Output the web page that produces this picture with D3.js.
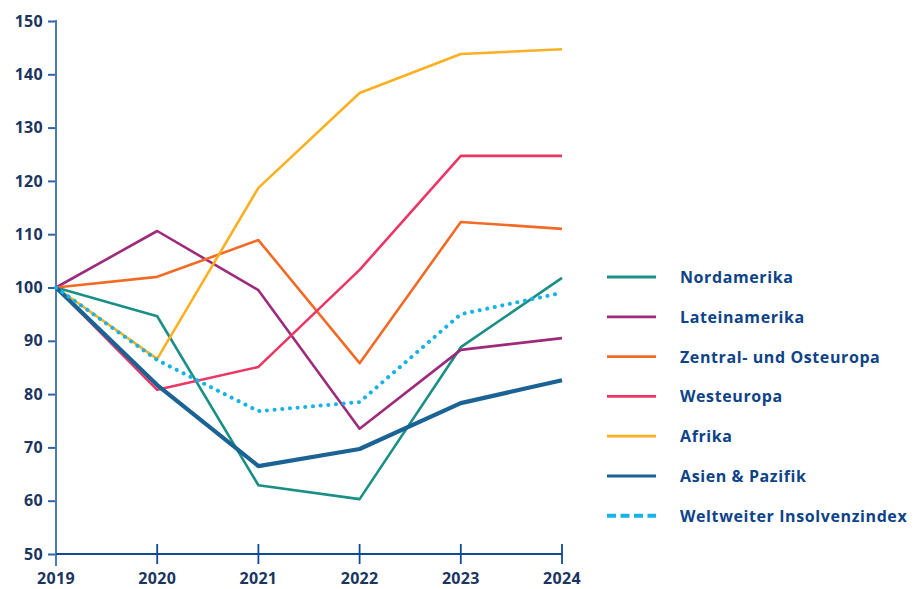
<!DOCTYPE html>
<html>
<head>
<meta charset="UTF-8">
<title>Insolvenzindex</title>
<script src="https://d3js.org/d3.v7.min.js"></script>
<style>
    body {margin: 0; background: #fff;}
    text {font-family: "Open Sans", sans-serif; font-weight: 700;}
</style>
</head>
<body>
<div id="chart"></div>
<script>
// years on the x axis
var years = ["2019", "2020", "2021", "2022", "2023", "2024"];
var yTicks = [50, 60, 70, 80, 90, 100, 110, 120, 130, 140, 150];

// index values (2019 = 100)
var nordamerika   = [100, 94.6, 62.9, 60.3, 88.8, 101.8];
var lateinamerika = [100, 110.6, 99.5, 73.5, 88.3, 90.5];
var zentralOst    = [100, 102.0, 108.9, 85.8, 112.3, 111.0];
var westeuropa    = [100, 80.8, 85.1, 103.3, 124.7, 124.7];
var afrika        = [100, 86.6, 118.7, 136.5, 143.8, 144.7];
var asienPazifik  = [100, 81.7, 66.5, 69.7, 78.3, 82.6];
var weltweit      = [100, 86.4, 76.8, 78.5, 95.0, 99.0];

var seriesNames = ["Nordamerika", "Lateinamerika", "Zentral- und Osteuropa", "Westeuropa", "Afrika", "Asien & Pazifik", "Weltweiter Insolvenzindex"];

// drawing order and styles
var series = [
    {name: seriesNames[0], values: nordamerika,   color: "#1a8f85", width: 2.6},
    {name: seriesNames[1], values: lateinamerika, color: "#9e2a7c", width: 2.6},
    {name: seriesNames[2], values: zentralOst,    color: "#f26b26", width: 2.6},
    {name: seriesNames[3], values: westeuropa,    color: "#ea3764", width: 2.6},
    {name: seriesNames[4], values: afrika,        color: "#fbb022", width: 2.6},
    {name: seriesNames[5], values: asienPazifik,  color: "#1b6394", width: 4.2},
    {name: seriesNames[6], values: weltweit,      color: "#17b2e6", width: 4, dotted: true}
];

var svg = d3.select("#chart").append("svg")
    .attr("width", 922)
    .attr("height", 589);

var x = d3.scalePoint()
    .domain(years)
    .range([56, 562]);

var y = d3.scaleLinear()
    .domain([50, 150])
    .range([554, 21]);

// y axis
var yAxis = svg.append("g")
    .attr("transform", "translate(56,0)")
    .call(d3.axisLeft(y).tickValues(yTicks).tickSize(8).tickPadding(5));
yAxis.select(".domain").remove();
yAxis.selectAll(".tick line").attr("stroke", "#2f64a0").attr("stroke-width", 2);
yAxis.selectAll("text").attr("fill", "#1b355f").attr("font-size", 16).attr("letter-spacing", 0.3);
svg.append("line")
    .attr("x1", 56).attr("x2", 56)
    .attr("y1", 20).attr("y2", 566)
    .attr("stroke", "#4a7cb0").attr("stroke-width", 2);

// x axis
var xAxis = svg.append("g")
    .attr("transform", "translate(0,554)");
xAxis.append("line")
    .attr("x1", 56).attr("x2", 562)
    .attr("stroke", "#0f4a94").attr("stroke-width", 1.8);
xAxis.selectAll("line.tk")
    .data(years.slice(1))
    .enter().append("line")
    .attr("class", "tk")
    .attr("x1", function(d){ return x(d); })
    .attr("x2", function(d){ return x(d); })
    .attr("y1", -10).attr("y2", 10)
    .attr("stroke", "#0f4a94").attr("stroke-width", 1.8);
xAxis.selectAll("text")
    .data(years)
    .enter().append("text")
    .attr("x", function(d){ return x(d); })
    .attr("y", 30)
    .attr("text-anchor", "middle")
    .attr("fill", "#1b355f")
    .attr("font-size", 16)
    .attr("letter-spacing", 0.3)
    .text(function(d){ return d; });

// lines
var line = d3.line()
    .x(function(d, i){ return x(years[i]); })
    .y(function(d){ return y(d); });

svg.selectAll("path.series")
    .data(series)
    .enter().append("path")
    .attr("class", "series")
    .attr("d", function(d){ return line(d.values); })
    .attr("fill", "none")
    .attr("stroke", function(d){ return d.color; })
    .attr("stroke-width", function(d){ return d.width; })
    .attr("stroke-linejoin", "round")
    .attr("stroke-linecap", function(d){ return d.dotted ? "round" : "butt"; })
    .attr("stroke-dasharray", function(d){ return d.dotted ? "0.1 7.6" : null; });

// legend
var legend = svg.append("g")
    .attr("transform", "translate(607,277)");
var item = legend.selectAll("g")
    .data(series)
    .enter().append("g")
    .attr("transform", function(d, i){ return "translate(0," + (i * 39.8) + ")"; });
item.append("line")
    .attr("x1", 0).attr("x2", 49)
    .attr("stroke", function(d){ return d.color; })
    .attr("stroke-width", function(d){ return d.dotted ? 4 : 2.8; })
    .attr("stroke-dasharray", function(d){ return d.dotted ? "9 4.5" : null; });
item.append("text")
    .attr("x", 73)
    .attr("y", 6)
    .attr("fill", "#0d4388")
    .attr("font-size", 16)
    .attr("letter-spacing", 0.6)
    .text(function(d){ return d.name; });
</script>
</body>
</html>
